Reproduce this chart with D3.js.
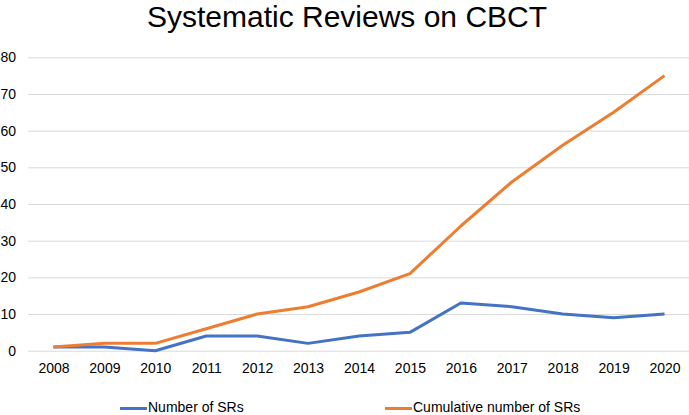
<!DOCTYPE html>
<html><head><meta charset="utf-8">
<script src="https://cdn.jsdelivr.net/npm/d3@7"></script>
<style>body{margin:0;background:#fff}svg{display:block}text{font-family:"Liberation Sans",Arial,sans-serif}</style>
</head><body>
<svg id="c" width="689" height="415"></svg>
<script>
const years = ["2008","2009","2010","2011","2012","2013","2014","2015","2016","2017","2018","2019","2020"];
const numberSRs = [1,1,0,4,4,2,4,5,13,12,10,9,10];
const cumulativeSRs = [1,2,2,6,10,12,16,21,34,46,56,65,75];
const yTicks = [0,10,20,30,40,50,60,70,80];
const seriesNames = ["Number of SRs","Cumulative number of SRs"];
const colors = ["#4472C4","#ED7D31"];

const svg = d3.select("#c");
const x = d3.scalePoint().domain(years).range([28,690]).padding(0.5);
const y = d3.scaleLinear().domain([0,80]).range([350.7,57.3]);

svg.append("text").attr("x",347).attr("y",27).attr("text-anchor","middle")
  .attr("font-size",30).attr("fill","#000")
  .text("Systematic Reviews on CBCT");

const yAxis = d3.axisLeft(y).tickValues(yTicks).tickSize(-662).tickPadding(12);
const gy = svg.append("g").attr("transform","translate(28,0)").call(yAxis);
gy.select(".domain").remove();
gy.selectAll(".tick line").attr("stroke","#d9d9d9").attr("stroke-width",1);
gy.selectAll(".tick text").attr("font-size",14).attr("fill","#000").attr("font-family","Liberation Sans, Arial, sans-serif");

const xAxis = d3.axisBottom(x).tickSize(0).tickPadding(12);
const gx = svg.append("g").attr("transform","translate(0,350.7)").call(xAxis);
gx.select(".domain").remove();
gx.selectAll(".tick text").attr("font-size",14).attr("fill","#000").attr("font-family","Liberation Sans, Arial, sans-serif");

const line = d3.line().x((d,i)=>x(years[i])).y(d=>y(d));
[numberSRs,cumulativeSRs].forEach((s,k)=>{
  svg.append("path").datum(s).attr("d",line).attr("fill","none")
    .attr("stroke",colors[k]).attr("stroke-width",3).attr("stroke-linejoin","round");
});

const legX = [120,385];
seriesNames.forEach((n,k)=>{
  svg.append("line").attr("x1",legX[k]).attr("x2",legX[k]+27).attr("y1",408.5).attr("y2",408.5)
    .attr("stroke",colors[k]).attr("stroke-width",3);
  svg.append("text").attr("x",legX[k]+28).attr("y",412).attr("font-size",14).attr("fill","#000").text(n);
});
</script>
</body></html>
